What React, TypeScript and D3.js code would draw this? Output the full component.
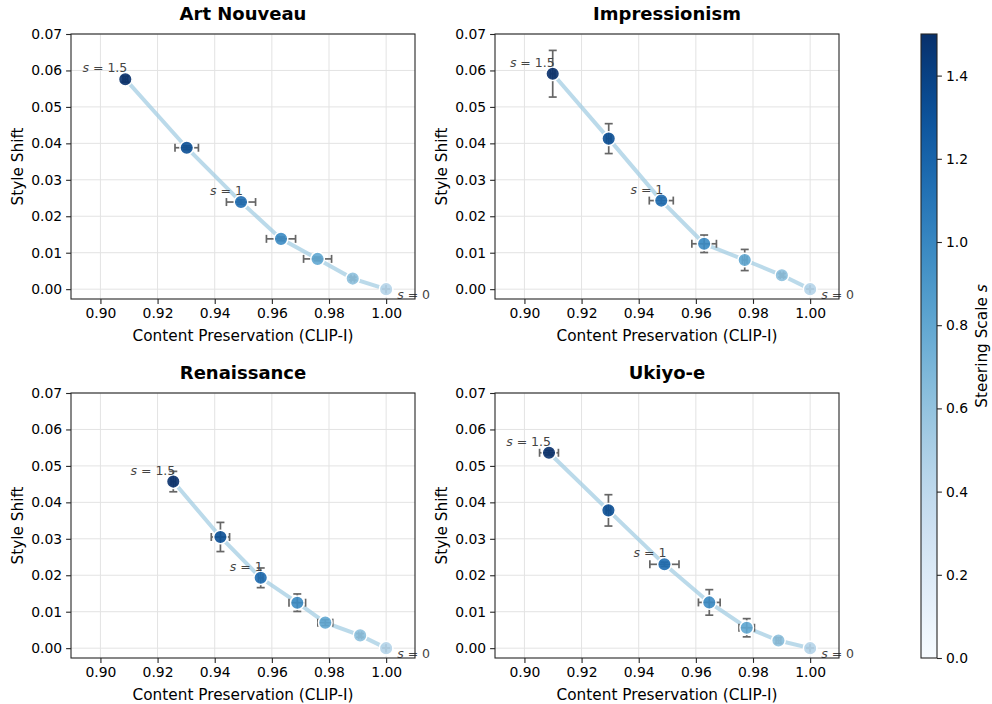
import { useRef, useEffect } from 'react';
import * as d3 from 'd3';

const STYLES = ['Art Nouveau', 'Impressionism', 'Renaissance', 'Ukiyo-e'];
const SCALES = [0, 0.25, 0.5, 0.75, 1.0, 1.25, 1.5];
const LABELLED = [0, 1, 1.5];

// CLIP-I / style shift per steering scale (s = 0 ... 1.5), with std errors
const artNouveauClip = [1.0, 0.9883, 0.976, 0.9632, 0.9492, 0.9302, 0.9087];
const artNouveauShift = [0.0, 0.0029, 0.0083, 0.0138, 0.0239, 0.0388, 0.0576];
const artNouveauClipErr = [0, 0.0006, 0.0049, 0.0051, 0.0051, 0.0041, 0.0008];
const artNouveauShiftErr = [0, 0.0004, 0.0005, 0.0005, 0.0006, 0.0005, 0.0008];

const impressionismClip = [1.0, 0.9901, 0.9771, 0.9629, 0.9479, 0.9295, 0.9099];
const impressionismShift = [0.0, 0.0038, 0.008, 0.01245, 0.0243, 0.0413, 0.0591];
const impressionismClipErr = [0, 0.0006, 0.0008, 0.0043, 0.0042, 0.0008, 0.0008];
const impressionismShiftErr = [0, 0.0005, 0.0029, 0.0024, 0.0008, 0.0041, 0.0064];

const renaissanceClip = [1.0, 0.9909, 0.9787, 0.9689, 0.9561, 0.942, 0.9255];
const renaissanceShift = [0.0, 0.0035, 0.007, 0.01247, 0.0193, 0.0305, 0.0457];
const renaissanceClipErr = [0, 0.0005, 0.0026, 0.0029, 0.0008, 0.0032, 0.0008];
const renaissanceShiftErr = [0, 0.0005, 0.0008, 0.0024, 0.0027, 0.004, 0.0028];

const ukiyoeClip = [1.0, 0.9889, 0.9778, 0.9647, 0.949, 0.9294, 0.9086];
const ukiyoeShift = [0.0, 0.0021, 0.0056, 0.01255, 0.023, 0.0378, 0.0536];
const ukiyoeClipErr = [0, 0.0008, 0.0027, 0.0038, 0.0051, 0.0008, 0.0033];
const ukiyoeShiftErr = [0, 0.0008, 0.0025, 0.0035, 0.0006, 0.0043, 0.0006];

const X_TICKS = [0.9, 0.92, 0.94, 0.96, 0.98, 1.0];
const Y_TICKS = [0, 0.01, 0.02, 0.03, 0.04, 0.05, 0.06, 0.07];
const CBAR_TICKS = [0, 0.2, 0.4, 0.6, 0.8, 1.0, 1.2, 1.4];

const SERIES = [
  { clip: artNouveauClip, shift: artNouveauShift, clipErr: artNouveauClipErr, shiftErr: artNouveauShiftErr },
  { clip: impressionismClip, shift: impressionismShift, clipErr: impressionismClipErr, shiftErr: impressionismShiftErr },
  { clip: renaissanceClip, shift: renaissanceShift, clipErr: renaissanceClipErr, shiftErr: renaissanceShiftErr },
  { clip: ukiyoeClip, shift: ukiyoeShift, clipErr: ukiyoeClipErr, shiftErr: ukiyoeShiftErr },
];

const FONT = '"DejaVu Sans", sans-serif';
const PANEL_POS = [[71, 34], [495, 34], [71, 393], [495, 393]];
const PW = 344;
const PH = 265;
const S_MAX = 1.5;

export default function App() {
  const svgRef = useRef<SVGSVGElement>(null);

  useEffect(() => {
    if (!svgRef.current) return;
    const svg = d3.select(svgRef.current);
    svg.selectAll('*').remove();

    const pointColor = (s: number) => d3.interpolateBlues(0.3 + 0.7 * s / S_MAX);
    const x = d3.scaleLinear().domain([0.8897, 1.0101]).range([0, PW]);
    const y = d3.scaleLinear().domain([-0.0027, 0.07]).range([PH, 0]);

    SERIES.forEach((ser, i) => {
      const [px, py] = PANEL_POS[i];
      const g = svg.append('g').attr('transform', `translate(${px},${py})`);

      // grid
      g.selectAll('.gx').data(X_TICKS).enter().append('line')
        .attr('x1', d => x(d)).attr('x2', d => x(d)).attr('y1', 0).attr('y2', PH)
        .attr('stroke', '#e3e3e3').attr('stroke-width', 1);
      g.selectAll('.gy').data(Y_TICKS).enter().append('line')
        .attr('y1', d => y(d)).attr('y2', d => y(d)).attr('x1', 0).attr('x2', PW)
        .attr('stroke', '#e3e3e3').attr('stroke-width', 1);

      const pts = SCALES.map((s, k) => ({
        s, cx: ser.clip[k], cy: ser.shift[k], ex: ser.clipErr[k], ey: ser.shiftErr[k],
      }));

      // connecting line
      const line = d3.line<typeof pts[0]>().x(d => x(d.cx)).y(d => y(d.cy));
      g.append('path').attr('d', line(pts)!)
        .attr('fill', 'none').attr('stroke', '#9ecae1').attr('stroke-opacity', 0.7)
        .attr('stroke-width', 4).attr('stroke-linecap', 'round');

      // error bars
      const cap = 4;
      const eb = g.append('g').attr('stroke', '#666').attr('stroke-width', 1.7).attr('fill', 'none');
      pts.forEach(p => {
        const X = x(p.cx), Y = y(p.cy);
        const x0 = x(p.cx - p.ex), x1 = x(p.cx + p.ex);
        const y0 = y(p.cy - p.ey), y1 = y(p.cy + p.ey);
        eb.append('line').attr('x1', x0).attr('x2', x1).attr('y1', Y).attr('y2', Y);
        eb.append('line').attr('x1', X).attr('x2', X).attr('y1', y0).attr('y2', y1);
        [x0, x1].forEach(v => eb.append('line').attr('x1', v).attr('x2', v).attr('y1', Y - cap).attr('y2', Y + cap));
        [y0, y1].forEach(v => eb.append('line').attr('y1', v).attr('y2', v).attr('x1', X - cap).attr('x2', X + cap));
      });

      // points
      g.selectAll('circle').data(pts).enter().append('circle')
        .attr('cx', d => x(d.cx)).attr('cy', d => y(d.cy)).attr('r', 6.8)
        .attr('fill', d => pointColor(d.s)).attr('fill-opacity', 0.9)
        .attr('stroke', '#fff').attr('stroke-width', 1.5);

      // annotations
      pts.filter(p => LABELLED.includes(p.s)).forEach(p => {
        const X = x(p.cx), Y = y(p.cy);
        const t = g.append('text').attr('font-family', FONT).attr('font-size', 12.5).attr('fill', '#444');
        if (p.s === 0) t.attr('x', X + 11).attr('y', Y + 10).attr('text-anchor', 'start');
        else t.attr('x', X + 2).attr('y', Y - 7).attr('text-anchor', 'end');
        t.append('tspan').attr('font-style', 'italic').text('s');
        t.append('tspan').text(` = ${p.s === 1.5 ? '1.5' : p.s}`);
      });

      // frame
      g.append('rect').attr('width', PW).attr('height', PH)
        .attr('fill', 'none').attr('stroke', '#262626').attr('stroke-width', 1.1);

      // axes
      const xa = g.append('g').attr('transform', `translate(0,${PH})`)
        .call(d3.axisBottom(x).tickValues(X_TICKS).tickFormat(d3.format('.2f')).tickSize(4.9).tickPadding(4));
      const ya = g.append('g')
        .call(d3.axisLeft(y).tickValues(Y_TICKS).tickFormat(d3.format('.2f')).tickSize(4.9).tickPadding(4));
      [xa, ya].forEach(a => {
        a.select('.domain').remove();
        a.selectAll('line').attr('stroke', '#262626').attr('stroke-width', 1.1);
        a.selectAll('text').attr('font-family', FONT).attr('font-size', 13.9).attr('fill', '#000');
      });

      g.append('text').attr('x', PW / 2).attr('y', PH + 42).attr('text-anchor', 'middle')
        .attr('font-family', FONT).attr('font-size', 15.3).text('Content Preservation (CLIP-I)');
      g.append('text').attr('transform', `translate(-48,${PH / 2}) rotate(-90)`).attr('text-anchor', 'middle')
        .attr('font-family', FONT).attr('font-size', 15.3).text('Style Shift');
      g.append('text').attr('x', PW / 2).attr('y', -14).attr('text-anchor', 'middle')
        .attr('font-family', FONT).attr('font-size', 18).attr('font-weight', 'bold').text(STYLES[i]);
    });

    // colorbar
    const cbX = 921, cbY = 34, cbW = 16, cbH = 624;
    const grad = svg.append('defs').append('linearGradient').attr('id', 'cbar')
      .attr('x1', 0).attr('y1', 1).attr('x2', 0).attr('y2', 0);
    d3.range(0, 1.0001, 0.05).forEach(t => {
      grad.append('stop').attr('offset', t).attr('stop-color', d3.interpolateBlues(t));
    });
    const cs = d3.scaleLinear().domain([0, S_MAX]).range([cbY + cbH, cbY]);
    svg.append('rect').attr('x', cbX).attr('y', cbY).attr('width', cbW).attr('height', cbH)
      .attr('fill', 'url(#cbar)');
    const ca = svg.append('g').attr('transform', `translate(${cbX + cbW},0)`)
      .call(d3.axisRight(cs).tickValues(CBAR_TICKS).tickFormat(d3.format('.1f')).tickSize(4.9).tickPadding(4));
    ca.select('.domain').remove();
    ca.selectAll('line').attr('stroke', '#262626').attr('stroke-width', 1.1);
    ca.selectAll('text').attr('font-family', FONT).attr('font-size', 13.9).attr('fill', '#000');
    svg.append('rect').attr('x', cbX).attr('y', cbY).attr('width', cbW).attr('height', cbH)
      .attr('fill', 'none').attr('stroke', '#262626').attr('stroke-width', 1.1);
    const lbl = svg.append('text').attr('transform', `translate(987,${cbY + cbH / 2}) rotate(-90)`)
      .attr('text-anchor', 'middle').attr('font-family', FONT).attr('font-size', 15.3);
    lbl.append('tspan').text('Steering Scale ');
    lbl.append('tspan').attr('font-style', 'italic').text('s');
  }, []);

  return (
    <svg ref={svgRef} width={992} height={704}
      style={{ position: 'absolute', left: 0, top: 0, background: '#fff' }} />
  );
}
